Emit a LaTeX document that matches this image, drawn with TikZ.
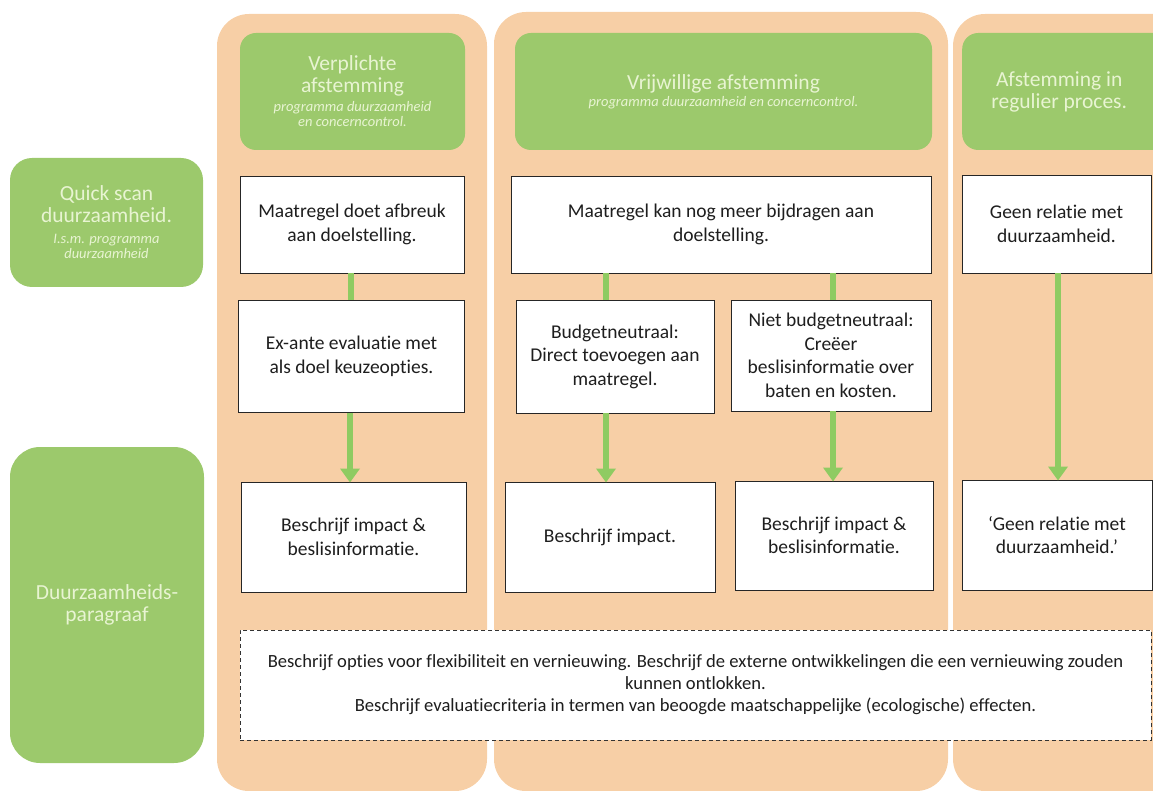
\documentclass[tikz,border=0pt]{standalone}
\usepackage{fontspec}
\setmainfont{Carlito}[Ligatures=NoCommon]
\usetikzlibrary{arrows.meta,calc}
\definecolor{peach}{HTML}{F7CFA6}
\definecolor{gbox}{HTML}{9CC96C}
\definecolor{garrow}{HTML}{8FCB62}
\definecolor{htext}{HTML}{E8F4D2}
\definecolor{btext}{HTML}{1E1E1E}
\tikzset{
  column/.style={fill=peach,draw=none,rounded corners=32pt},
  headbox/.style={fill=gbox,draw=none,rounded corners=16pt,text=htext,align=center,inner sep=0pt,
    font=\fontsize{21.5}{22}\selectfont},
  sidebox/.style={fill=gbox,draw=none,rounded corners=22pt,text=htext,align=center,inner sep=0pt,
    font=\fontsize{21.5}{22}\selectfont},
  wbox/.style={fill=white,draw=black!85,line width=0.9pt,text=btext,align=center,inner sep=0pt,
    font=\fontsize{19.5}{23.5}\selectfont},
  dbox/.style={fill=white,draw=black!80,dashed,dash pattern=on 4pt off 3pt,line width=0.9pt,text=btext,align=center,inner sep=0pt,
    font=\fontsize{18.6}{22}\selectfont},
  link/.style={draw=garrow,line width=6pt},
  flow/.style={draw=garrow,line width=6pt,-{Triangle[width=19pt,length=14pt]}},
}
\newcommand{\subit}[1]{{\fontsize{14.5}{13.5}\selectfont\itshape #1}}
\begin{document}
\begin{tikzpicture}[x=1pt,y=-1pt]
\useasboundingbox (0,0) rectangle (1153,791);
\begin{scope}
\clip (0,0) rectangle (1153,791);
% columns
\path[column] (217,14) rectangle (487,791);
\path[column] (494,12) rectangle (948,791);
\path[column] (953,14) rectangle (1200,791);
% headers
\node[headbox,minimum width=225pt,minimum height=117pt] (H1) at (352.5,91.5)
  {Verplichte\\afstemming\\[-3pt]\subit{programma duurzaamheid}\\[-7pt]\subit{en concerncontrol.}};
\node[headbox,minimum width=417pt,minimum height=117pt] (H2) at (723.5,91.5)
  {Vrijwillige afstemming\\[-5pt]\subit{programma duurzaamheid en concerncontrol.}};
\node[headbox,minimum width=230pt,minimum height=117pt,anchor=west] (H3) at (962,91.5)
  {\hspace*{-36pt}Afstemming in\\\hspace*{-36pt}regulier proces.};
% side boxes
\node[sidebox,minimum width=193pt,minimum height=129pt] (S1) at (106.5,222.5)
  {Quick scan\\duurzaamheid.\\[-1pt]\subit{I.s.m. programma}\\[-7pt]\subit{duurzaamheid}};
\node[sidebox,rounded corners=30pt,minimum width=194pt,minimum height=316pt] (S2) at (107,605)
  {Duurzaamheids-\\paragraaf};
% white boxes
\node[wbox,minimum width=224pt,minimum height=97pt] (A1) at (352,224.5)
  {Maatregel doet afbreuk\\aan doelstelling.};
\node[wbox,minimum width=226pt,minimum height=112pt] (A2) at (351.5,356.5)
  {Ex-ante evaluatie met\\als doel keuzeopties.};
\node[wbox,minimum width=225pt,minimum height=110pt] (A3) at (353.5,537)
  {Beschrijf impact \&\\beslisinformatie.};
\node[wbox,minimum width=420pt,minimum height=97pt] (B1) at (721,224.5)
  {Maatregel kan nog meer bijdragen aan\\doelstelling.};
\node[wbox,minimum width=198pt,minimum height=113pt] (B2) at (615,356.5)
  {Budgetneutraal:\\Direct toevoegen aan\\maatregel.};
\node[wbox,minimum width=200pt,minimum height=111pt] (B3) at (831,355.5)
  {Niet budgetneutraal:\\Creëer\\beslisinformatie over\\baten en kosten.};
\node[wbox,minimum width=210pt,minimum height=110pt] (B4) at (610,537)
  {Beschrijf impact.};
\node[wbox,minimum width=198pt,minimum height=109pt] (B5) at (834,535.5)
  {Beschrijf impact \&\\beslisinformatie.};
\node[wbox,minimum width=189pt,minimum height=98pt] (C1) at (1056.5,224)
  {Geen relatie met\\duurzaamheid.};
\node[wbox,minimum width=190pt,minimum height=110pt] (C2) at (1057,535)
  {‘Geen relatie met\\duurzaamheid.’};
\node[dbox,minimum width=911pt,minimum height=110pt] (D) at (695.5,685)
  {Beschrijf opties voor flexibiliteit en vernieuwing. Beschrijf de externe ontwikkelingen die een vernieuwing zouden\\
   kunnen ontlokken.\\
   Beschrijf evaluatiecriteria in termen van beoogde maatschappelijke (ecologische) effecten.};
% connectors
\draw[link] (A1.south -| 351,0) -- (A2.north -| 351,0);
\draw[flow] (A2.south -| 350,0) -- ([yshift=-1pt]A3.north -| 350,0);
\draw[link] (B1.south -| 606,0) -- (B2.north -| 606,0);
\draw[flow] (B2.south -| 606,0) -- ([yshift=-1pt]B4.north -| 606,0);
\draw[link] (B1.south -| 833,0) -- (B3.north -| 833,0);
\draw[flow] (B3.south -| 833,0) -- ([yshift=-1pt]B5.north -| 833,0);
\draw[flow] (C1.south -| 1058,0) -- ([yshift=-1pt]C2.north -| 1058,0);
\end{scope}
\end{tikzpicture}
\end{document}
